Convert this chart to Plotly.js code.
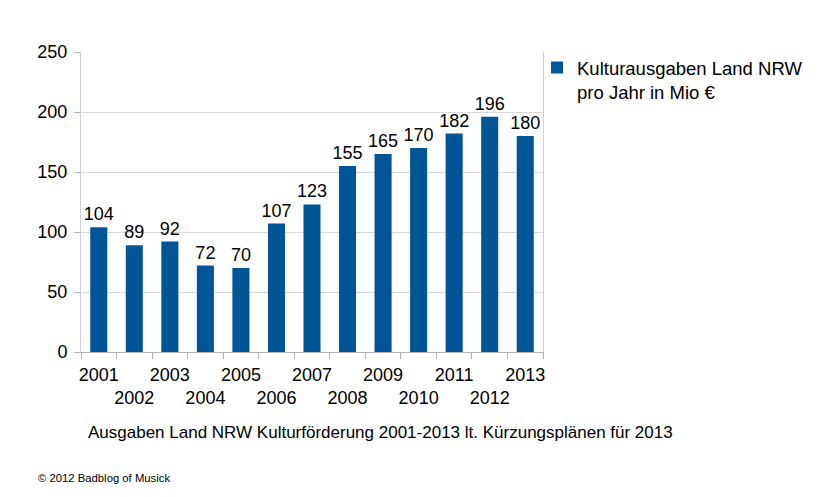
<!DOCTYPE html>
<html>
<head>
<meta charset="utf-8">
<script src="https://cdn.plot.ly/plotly-3.0.1.min.js"></script>
<style>
  body { margin: 0; background: #fff; }
  #chart { width: 835px; height: 497px; }
</style>
</head>
<body>
<div id="chart"></div>
<script>
var years = ['2001', '2002', '2003', '2004', '2005', '2006', '2007', '2008', '2009', '2010', '2011', '2012', '2013'];
var spending = [104, 89, 92, 72, 70, 107, 123, 155, 165, 170, 182, 196, 180];
var yearLabels = years.map(function (y, i) { return i % 2 === 1 ? '<br>' + y : y; });

var trace = {
  x: years,
  y: spending,
  type: 'bar',
  name: 'Kulturausgaben Land NRW<br>pro Jahr in Mio €',
  marker: { color: '#005596' },
  text: spending.map(String),
  textposition: 'outside',
  constraintext: 'none',
  textfont: { size: 18, color: '#000' },
  cliponaxis: false
};

var layout = {
  width: 835,
  height: 497,
  margin: { l: 81, r: 292, t: 52, b: 145 },
  paper_bgcolor: '#fff',
  plot_bgcolor: '#fff',
  font: { family: 'Liberation Sans, Arial, sans-serif', color: '#000' },
  bargap: 0.52,
  showlegend: true,
  legend: {
    x: (537 - 81) / 462, xanchor: 'left',
    y: 1.01, yanchor: 'top',
    valign: 'top',
    font: { size: 18.5 },
    bgcolor: 'rgba(0,0,0,0)'
  },
  xaxis: {
    type: 'category',
    tickmode: 'array',
    tickvals: years,
    ticktext: yearLabels,
    tickson: 'boundaries',
    ticks: 'outside',
    ticklen: 6,
    tickcolor: '#b3b3b3',
    ticklabelstandoff: 6,
    showgrid: false,
    showline: true,
    linecolor: '#b3b3b3',
    tickfont: { size: 18 },
    tickangle: 0
  },
  yaxis: {
    range: [0, 250],
    dtick: 50,
    ticks: 'outside',
    ticklen: 6,
    tickcolor: '#b3b3b3',
    ticklabelstandoff: 3,
    showgrid: true,
    gridcolor: '#d9d9d9',
    showline: true,
    mirror: true,
    linecolor: '#d0d0d0',
    zeroline: false,
    tickfont: { size: 18 }
  },
  annotations: [
    {
      text: 'Ausgaben Land NRW Kulturförderung 2001-2013 lt. Kürzungsplänen für 2013',
      xref: 'paper', yref: 'paper',
      x: (86 - 81) / 462, y: -(432 - 352) / 300,
      xanchor: 'left', yanchor: 'middle',
      showarrow: false,
      font: { size: 17 }
    },
    {
      text: '© 2012 Badblog of Musick',
      xref: 'paper', yref: 'paper',
      x: (36 - 81) / 462, y: -(478 - 352) / 300,
      xanchor: 'left', yanchor: 'middle',
      showarrow: false,
      font: { size: 11.3 }
    }
  ]
};

Plotly.newPlot('chart', [trace], layout, { displayModeBar: false, staticPlot: true });
</script>
</body>
</html>
